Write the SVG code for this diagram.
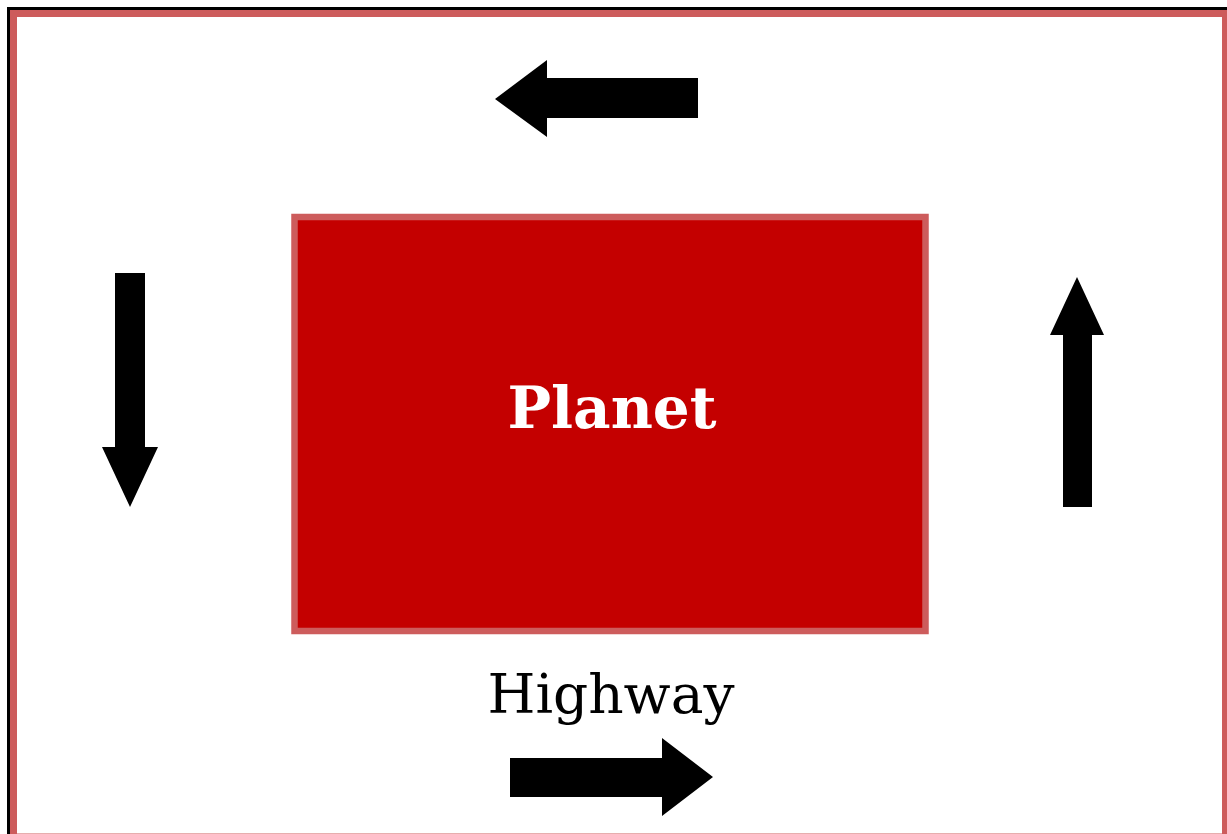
<svg xmlns="http://www.w3.org/2000/svg" width="1227" height="834" viewBox="0 0 1227 834">
  <style>
    .arrow { fill: #000000; stroke: none; }
    .frame-outer { fill: none; stroke: #000000; stroke-width: 3; }
    .frame-inner { fill: #ffffff; stroke: #cd5c5c; stroke-width: 7; }
    .planet-box { fill: #c40000; stroke: #cd5c5c; stroke-width: 6.5; }
    .planet-label { font-family: "DejaVu Serif", "Liberation Serif", serif; font-weight: bold; font-size: 58px; fill: #ffffff; text-anchor: middle; }
    .highway-label { font-family: "DejaVu Serif", "Liberation Serif", serif; font-size: 55px; fill: #000000; text-anchor: middle; }
  </style>
  <rect x="0" y="0" width="1227" height="834" fill="#ffffff"/>
  <g id="frame">
    <rect class="frame-outer" x="8.5" y="8.5" width="1230" height="840"/>
    <rect class="frame-inner" x="13.5" y="13.5" width="1212" height="823.5"/>
  </g>
  <g id="planet">
    <rect class="planet-box" x="294.5" y="217" width="631" height="414"/>
    <text class="planet-label" x="612" y="428">Planet</text>
  </g>
  <g id="highway">
    <text class="highway-label" x="611" y="713">Highway</text>
  </g>
  <g id="connectors">
    <polygon class="arrow" points="698,78 547,78 547,60 495,99 547,137 547,118 698,118"/>
    <polygon class="arrow" points="510,758 662,758 662,738 713,777 662,816 662,797 510,797"/>
    <polygon class="arrow" points="115,273 145,273 145,447 158,447 130,507 102,447 115,447"/>
    <polygon class="arrow" points="1063,507 1092,507 1092,335 1104,335 1077,277 1050,335 1063,335"/>
  </g>
</svg>
